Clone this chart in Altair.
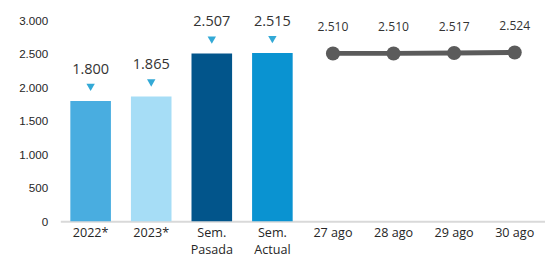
import altair as alt
import pandas as pd

categories = ["2022*", "2023*", "Sem. Pasada", "Sem. Actual", "27 ago", "28 ago", "29 ago", "30 ago"]
bar_values = [1800, 1865, 2507, 2515]
bar_colors = ["#49ade0", "#a6ddf6", "#02558b", "#0a93d1"]
line_values = [2510, 2510, 2517, 2524]
y_ticks = [0, 500, 1000, 1500, 2000, 2500, 3000]

bars = pd.DataFrame({"cat": categories[:4], "value": bar_values, "color": bar_colors})
line = pd.DataFrame({"cat": categories[4:], "value": line_values})

fmt = "replace(format(datum.value, ','), ',', '.')"

x = alt.X("cat:N", sort=categories, title=None,
          scale=alt.Scale(paddingInner=0.33, paddingOuter=0.165),
          axis=alt.Axis(labelAngle=0, ticks=False, domainColor="#d9d9d9", domainWidth=2,
                        labelFont="Open Sans", labelFontSize=13, labelColor="#262626",
                        labelPadding=6, labelLineHeight=17,
                        labelExpr="indexof(datum.label,'Sem.')==0 ? split(datum.label,' ') : datum.label"))
y = alt.Y("value:Q", title=None, scale=alt.Scale(domain=[0, 3000], nice=False),
          axis=alt.Axis(values=y_ticks, grid=False, domain=False, ticks=False,
                        labelFont="Liberation Sans", labelFontSize=12, labelColor="#262626",
                        labelPadding=13, labelExpr=fmt))

base_b = alt.Chart(bars).encode(x=x, y=y)
bar_layer = base_b.mark_bar().encode(color=alt.Color("color:N", scale=None))
tri = base_b.mark_point(shape="triangle-down", filled=True, size=75, color="#33a9d6", opacity=1, yOffset=-14)
bar_txt = base_b.transform_calculate(lbl=fmt).mark_text(
    font="Open Sans", fontSize=15, color="#333333", yOffset=-33).encode(text="lbl:N")

base_l = alt.Chart(line).encode(x=x, y=y)
line_layer = base_l.mark_line(color="#5b5b5b", strokeWidth=5)
pts = base_l.mark_circle(color="#5b5b5b", size=210, opacity=1)
line_txt = base_l.transform_calculate(lbl=fmt).mark_text(
    font="Open Sans", fontSize=12.5, color="#333333", yOffset=-27).encode(text="lbl:N")

chart = alt.layer(bar_layer, tri, bar_txt, line_layer, pts, line_txt).properties(
    width=500, height=207,
    autosize=alt.AutoSizeParams(type="none"),
    padding={"left": 54, "top": 9, "right": 0, "bottom": 40},
).configure_view(stroke=None)

chart.save("out.html", embed_options={"renderer": "svg", "actions": False})
